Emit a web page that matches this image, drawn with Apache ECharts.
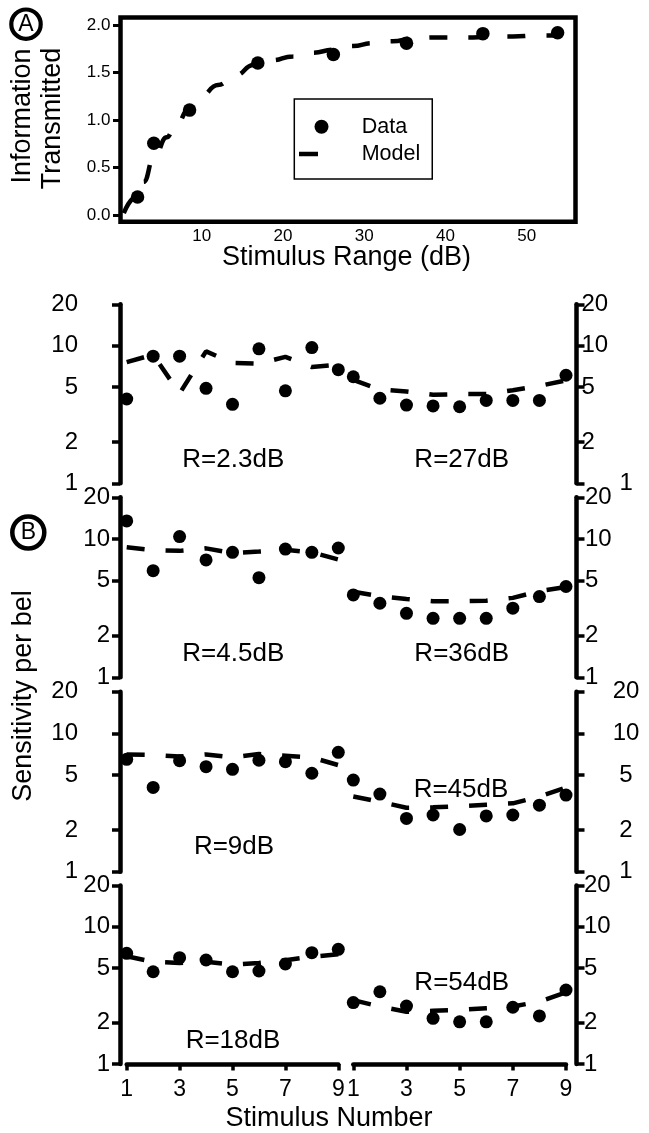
<!DOCTYPE html>
<html><head><meta charset="utf-8">
<script src="https://cdn.jsdelivr.net/npm/echarts@6/dist/echarts.min.js"></script>
<style>html,body{margin:0;padding:0;background:#fff}#c{width:649px;height:1133px}</style>
</head><body><div id="c"></div><script>
// ---------------- DATA ----------------
// Panel A
const panelAXTicks = [10, 20, 30, 40, 50];
const panelAYTicks = [0, 0.5, 1, 1.5, 2];
const dataRangeA = [2.1, 4.1, 8.5, 16.9, 26.2, 35.2, 44.6, 53.8];
const dataInfoA  = [0.19, 0.755, 1.105, 1.60, 1.69, 1.81, 1.91, 1.92];
const modelRangeA = [0.4, 2.1, 2.85, 4.1, 5.7, 6.7, 8.5, 9.8, 12, 14.1, 16.4, 18.6, 21.2, 23.7, 26.2, 28.6, 31, 33.5, 36, 38.5, 41, 43.4, 46, 48.3, 51.2, 53.8];
const modelInfoA  = [0.02, 0.2, 0.35, 0.6, 0.82, 0.93, 1.12, 1.245, 1.37, 1.47, 1.58, 1.63, 1.67, 1.71, 1.74, 1.78, 1.81, 1.83, 1.86, 1.87, 1.87, 1.87, 1.88, 1.88, 1.89, 1.89];
// Panel B
const stimulusNumbers = [1, 2, 3, 4, 5, 6, 7, 8, 9];
const xTicksB = [1, 3, 5, 7, 9];
const yTicksB = [1, 2, 5, 10, 20];
const leftRangeLabels  = ['R=2.3dB', 'R=4.5dB', 'R=9dB', 'R=18dB'];
const rightRangeLabels = ['R=27dB', 'R=36dB', 'R=45dB', 'R=54dB'];
// row 1
const dataL1  = [4.1, 8.4, 8.4, 4.9, 3.75, 9.5, 4.7, 9.7, 6.7];
const modelL1 = [7.6, 8.6, 4.5, 9.1, 7.5, 7.4, 8.3, 7.0, 7.3];
const dataR1  = [5.95, 4.15, 3.7, 3.65, 3.6, 4.0, 4.0, 4.0, 6.1];
const modelR1 = [5.65, 4.8, 4.65, 4.4, 4.45, 4.45, 4.75, 5.1, 5.6];
// row 2
const dataL2  = [13.5, 5.9, 10.4, 7.05, 8.0, 5.25, 8.45, 8.0, 8.6];
const modelL2 = [8.7, 8.3, 8.2, 8.55, 7.9, 8.1, 8.35, 8.0, 7.1];
const dataR2  = [3.94, 3.43, 2.9, 2.67, 2.67, 2.67, 3.16, 3.83, 4.53];
const modelR2 = [4.15, 3.85, 3.68, 3.55, 3.55, 3.58, 3.75, 4.2, 4.5];
// row 3
const dataL3  = [6.5, 4.07, 6.35, 5.75, 5.5, 6.4, 6.25, 5.15, 7.3];
const modelL3 = [7.05, 7.0, 6.8, 7.05, 6.7, 7.1, 6.9, 6.7, 5.9];
const dataR3  = [4.6, 3.64, 2.43, 2.57, 2.02, 2.53, 2.57, 3.03, 3.58];
const modelR3 = [3.5, 3.2, 2.9, 2.92, 2.97, 3.05, 3.12, 3.5, 4.05];
// row 4
const dataL4  = [6.4, 4.7, 5.95, 5.72, 4.7, 4.76, 5.35, 6.47, 6.84];
const modelL4 = [6.1, 5.55, 5.45, 5.55, 5.3, 5.45, 5.7, 6.05, 6.3];
const dataR4  = [2.8, 3.36, 2.64, 2.15, 2.03, 2.03, 2.59, 2.24, 3.46];
const modelR4 = [2.92, 2.62, 2.4, 2.44, 2.48, 2.55, 2.62, 2.85, 3.33];

const rowsData = [[dataL1, modelL1, dataR1, modelR1], [dataL2, modelL2, dataR2, modelR2],
                  [dataL3, modelL3, dataR3, modelR3], [dataL4, modelL4, dataR4, modelR4]];

// ---------------- LAYOUT ----------------
const FONT = 'Liberation Sans, Arial, Helvetica, sans-serif';
const rowTop = [304.3, 497.3, 691.8, 885.4];
const rowBottom = [483.3, 677.3, 871.7, 1064];
const leftGridX = 126.7, leftGridW = 211.6;
const rightGridX = 353.3, rightGridW = 212.7;
const leftLabelMargin = [42, 10, 42, 10];
const rightLabelMargin = [5, 8.5, 49.5, 7.5];
const rightLabelAlign = ['left', 'left', 'center', 'left'];
const dash = [18, 21];

const L10 = v => Math.log10(v);
const LOGMAX = L10(20);
const logTicks = yTicksB.map(L10);
const fmtLog = v => String(Math.round(Math.pow(10, v)));

const grid = [{left: 120.5, top: 17.5, width: 455, height: 204.2, show: true, borderColor: '#000', borderWidth: 4.5}];
const xAxis = [{
  gridIndex: 0, type: 'value', min: 0, max: 56,
  axisLine: {show: false}, axisTick: {show: false}, splitLine: {show: false},
  axisLabel: {customValues: panelAXTicks, fontSize: 17, fontFamily: FONT, color: '#000', margin: 6}
}];
const yAxis = [{
  gridIndex: 0, type: 'value', min: -0.07, max: 2.08,
  axisLine: {show: false}, splitLine: {show: false},
  axisTick: {show: true, customValues: panelAYTicks, length: 7.5, lineStyle: {color: '#000', width: 3}},
  axisLabel: {customValues: panelAYTicks, fontSize: 17, fontFamily: FONT, color: '#000', margin: 10,
              formatter: v => v.toFixed(1)}
}];
const series = [
  {name: 'Model', type: 'line', xAxisIndex: 0, yAxisIndex: 0, smooth: true, smoothMonotone: 'x',
   symbol: 'none', clip: false, data: modelRangeA.map((x, i) => [x, modelInfoA[i]]),
   lineStyle: {color: '#000', width: 4.5, type: dash, cap: 'butt'}, itemStyle: {color: '#000'}},
  {name: 'Data', type: 'scatter', xAxisIndex: 0, yAxisIndex: 0, symbolSize: 13.5, clip: false,
   data: dataRangeA.map((x, i) => [x, dataInfoA[i]]), itemStyle: {color: '#000', opacity: 1}}
];

for (let r = 0; r < 4; r++) {
  const h = rowBottom[r] - rowTop[r];
  for (let s = 0; s < 2; s++) {
    const gi = grid.length;
    grid.push({left: s === 0 ? leftGridX : rightGridX, top: rowTop[r],
               width: s === 0 ? leftGridW : rightGridW, height: h});
    const isBottom = r === 3;
    xAxis.push({
      gridIndex: gi, type: 'value', min: 1, max: 9, show: isBottom, offset: 8.7,
      splitLine: {show: false},
      axisLine: {show: true, lineStyle: {color: '#000', width: 4.5, cap: 'round'}},
      axisTick: {show: true, customValues: xTicksB, length: 6.5, lineStyle: {color: '#000', width: 3.5}},
      axisLabel: {customValues: xTicksB, fontSize: 23, fontFamily: FONT, color: '#000', margin: 5}
    });
    const isLeft = s === 0;
    const special = (!isLeft && r === 0);
    yAxis.push({
      gridIndex: gi, type: 'value', min: 0, max: LOGMAX, position: isLeft ? 'left' : 'right',
      offset: isLeft ? 6.7 : 10.5, splitLine: {show: false},
      axisLine: {show: true, lineStyle: {color: '#000', width: 4.5, cap: 'round'}},
      axisTick: {show: true, customValues: logTicks, length: 8, lineStyle: {color: '#000', width: 3.5}},
      axisLabel: {
        customValues: logTicks, fontSize: 24, fontFamily: FONT, color: '#000',
        margin: isLeft ? leftLabelMargin[r] : rightLabelMargin[r],
        align: isLeft ? 'right' : rightLabelAlign[r],
        formatter: special ? (v => { const t = fmtLog(v); return t === '1' ? '{sh|1}' : t; }) : fmtLog,
        rich: special ? {sh: {fontSize: 24, fontFamily: FONT, color: '#000', padding: [0, 0, 0, 38]}} : undefined
      }
    });
    const dv = rowsData[r][s * 2], mv = rowsData[r][s * 2 + 1];
    series.push({
      name: 'model' + r + s, type: 'line', xAxisIndex: gi, yAxisIndex: gi, symbol: 'none', clip: false,
      data: stimulusNumbers.map((x, i) => [x, L10(mv[i])]),
      lineStyle: {color: '#000', width: 4.5, type: dash, cap: 'butt'}
    });
    series.push({
      name: 'data' + r + s, type: 'scatter', xAxisIndex: gi, yAxisIndex: gi, symbolSize: 13, clip: false,
      data: stimulusNumbers.map((x, i) => [x, L10(dv[i])]), itemStyle: {color: '#000', opacity: 1}
    });
  }
}

const txt = (x, y, text, size, rot) => ({
  type: 'text', x: x, y: y, rotation: rot || 0, silent: true,
  style: {text: text, fontSize: size, fontFamily: FONT, fill: '#000', align: 'center', verticalAlign: 'middle'}
});
const leftLabelPos = [[233.3, 460], [233.3, 654], [234, 847], [233, 1041]];
const rightLabelPos = [[461.7, 460], [461.7, 654], [461, 790], [461.7, 982.5]];
const graphic = [
  {type: 'circle', shape: {cx: 26, cy: 24.2, r: 14.7}, style: {fill: 'none', stroke: '#000', lineWidth: 4.2}},
  txt(26, 25, 'A', 23),
  {type: 'circle', shape: {cx: 28.3, cy: 532.5, r: 16}, style: {fill: 'none', stroke: '#000', lineWidth: 4.5}},
  txt(28.3, 533, 'B', 23),
  txt(23, 116, 'Information', 27, Math.PI / 2),
  txt(53, 118.5, 'Transmitted', 27, Math.PI / 2),
  txt(346.5, 257.5, 'Stimulus Range (dB)', 27),
  txt(23.5, 696, 'Sensitivity per bel', 27, Math.PI / 2),
  txt(329, 1119, 'Stimulus Number', 27)
];
leftRangeLabels.forEach((t, i) => graphic.push(txt(leftLabelPos[i][0], leftLabelPos[i][1], t, 26)));
rightRangeLabels.forEach((t, i) => graphic.push(txt(rightLabelPos[i][0], rightLabelPos[i][1], t, 26)));

const chart = echarts.init(document.getElementById('c'), null, {renderer: 'canvas'});
chart.setOption({
  animation: false,
  backgroundColor: '#fff',
  grid: grid, xAxis: xAxis, yAxis: yAxis, series: series, graphic: graphic,
  legend: {
    data: [
      {name: 'Data', icon: 'circle', itemStyle: {color: '#000', opacity: 1}},
      {name: 'Model', icon: 'path://M0,0L0,0M45,14L45,14M0,4.75L19,4.75L19,9.25L0,9.25Z', itemStyle: {color: '#000'}}
    ],
    orient: 'vertical', left: 294.3, top: 99,
    padding: [16.7, 12, 14, 4.7], itemWidth: 45, itemHeight: 14, itemGap: 5.3,
    borderColor: '#000', borderWidth: 1.5, selectedMode: false,
    textStyle: {fontSize: 21.5, fontFamily: FONT, color: '#000', lineHeight: 22, padding: [0, 0, 0, 12.7]}
  }
});
</script></body></html>
